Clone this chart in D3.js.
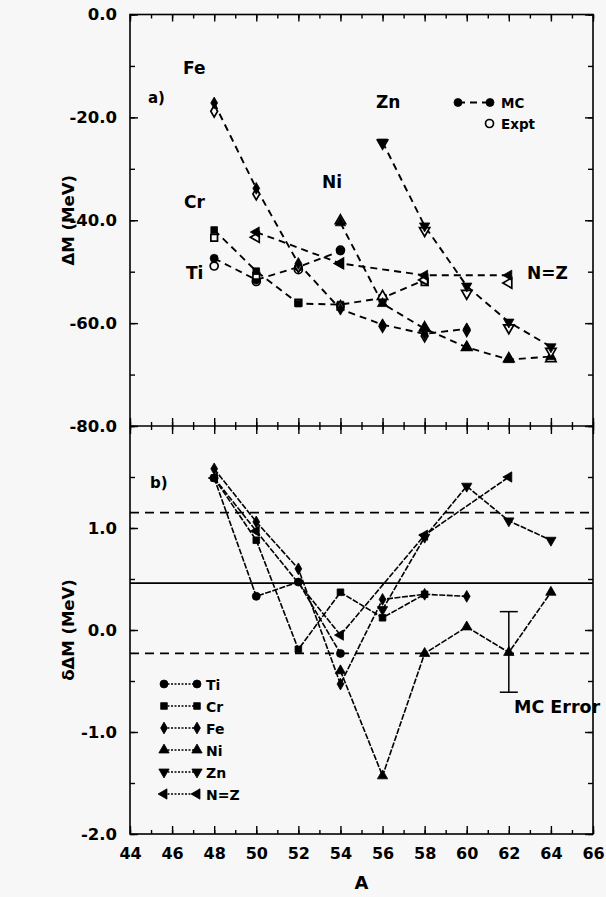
<!DOCTYPE html>
<html>
<head>
<meta charset="utf-8">
<script src="https://cdn.jsdelivr.net/npm/d3@7"></script>
<style>
  html, body { margin: 0; padding: 0; background: #f7f7f7; }
  svg { display: block; font-family: "DejaVu Sans", "Liberation Sans", Arial, sans-serif; }
</style>
</head>
<body>
<svg id="chart" width="606" height="897"></svg>
<script>
// Mass numbers for each isotope chain
const tiA = [48, 50, 52, 54];
const crA = [48, 50, 52, 54, 56, 58];
const feA = [48, 50, 52, 54, 56, 58, 60];
const niA = [54, 56, 58, 60, 62, 64];
const znA = [56, 58, 60, 62, 64];
const nzTopA = [50, 54, 58, 62];
const nzBotA = [48, 50, 54, 58, 62];

// Panel a): mass excess (MeV), Monte Carlo and experiment
const tiMC   = [-47.4, -51.6, -49.1, -46.0];
const tiExpt = [-48.9, -51.9, -49.6, -45.8];
const crMC   = [-41.9, -49.9, -56.2, -56.4, -55.1, -51.6];
const crExpt = [-43.4, -50.8, -56.0, -56.8, -55.2, -52.0];
const feMC   = [-17.2, -33.8, -48.4, -57.3, -60.3, -62.1, -61.1];
const feExpt = [-18.8, -34.9, -49.0, -56.8, -60.6, -62.5, -61.4];
const niMC   = [-40.5, -56.2, -61.1, -64.7, -67.1, -66.5];
const niExpt = [-40.1, -54.8, -60.9, -64.7, -66.9, -66.9];
const znMC   = [-24.8, -41.1, -52.8, -59.8, -64.6];
const znExpt = [-25.0, -42.0, -54.2, -60.9, -65.5];
const nzMC   = [-42.3, -48.4, -50.7, -50.7];
const nzExpt = [-43.3, -48.4, -51.6, -52.2];

// Panel b): difference MC - Expt (MeV)
const tiDiff = [1.49, 0.33, 0.47, -0.23];
const crDiff = [1.49, 0.88, -0.19, 0.37, 0.12, 0.35];
const feDiff = [1.58, 1.06, 0.60, -0.53, 0.30, 0.35, 0.33];
const niDiff = [-0.40, -1.43, -0.23, 0.03, -0.22, 0.37];
const znDiff = [0.20, 0.91, 1.41, 1.07, 0.88];
const nzDiff = [1.49, 0.97, -0.05, 0.93, 1.50];

// Reference levels in panel b) and the MC error bar
const meanDiff = 0.46;
const bandDiff = [1.15, -0.23];
const errA = 62;
const errLow = -0.61;
const errHigh = 0.18;

// Tick values
const xTicks = d3.range(44, 67, 2);
const xMinor = d3.range(44, 67, 1);
const yTopTicks = [0, -20, -40, -60, -80];
const yTopMinor = d3.range(-80, 1, 10);
const yBotTicks = [1, 0, -1, -2];
const yBotMinor = d3.range(-2, 2.01, 0.5);

const svg = d3.select("#chart");
const L = 130, R = 593, T = 14.5, M = 426, B = 834;
const BG = "#f7f7f7";

const x = d3.scaleLinear().domain([44, 66]).range([L, R]);
const yTop = d3.scaleLinear().domain([-80, 0]).range([M, T]);
const yBot = d3.scaleLinear().domain([-2, 2]).range([B, M]);

// Marker shapes
const tri = d3.symbol().type(d3.symbolTriangle).size(46);
const shapes = {
  circle:  { path: d3.symbol().type(d3.symbolCircle).size(50)(), rot: 0 },
  square:  { path: d3.symbol().type(d3.symbolSquare).size(44)(), rot: 0 },
  diamond: { path: d3.symbol().type(d3.symbolDiamond).size(40)(), rot: 0 },
  up:      { path: tri(), rot: 0 },
  down:    { path: tri(), rot: 180 },
  left:    { path: tri(), rot: -90 }
};

function marker(g, shape, cx, cy, filled) {
  const s = shapes[shape];
  g.append("path")
    .attr("d", s.path)
    .attr("transform", `translate(${cx},${cy}) rotate(${s.rot})`)
    .attr("fill", filled ? "#000" : BG)
    .attr("stroke", "#000")
    .attr("stroke-width", filled ? 0.8 : 1.7);
}

// ---------- Panel a) ----------
const gA = svg.append("g");
const topSeries = [
  { A: tiA, mc: tiMC, ex: tiExpt, shape: "circle" },
  { A: crA, mc: crMC, ex: crExpt, shape: "square" },
  { A: feA, mc: feMC, ex: feExpt, shape: "diamond" },
  { A: niA, mc: niMC, ex: niExpt, shape: "up" },
  { A: znA, mc: znMC, ex: znExpt, shape: "down" },
  { A: nzTopA, mc: nzMC, ex: nzExpt, shape: "left" }
];
const lineTop = d3.line().x(d => x(d[0])).y(d => yTop(d[1]));
topSeries.forEach(s => {
  const pts = s.A.map((a, i) => [a, s.mc[i]]);
  gA.append("path").attr("d", lineTop(pts))
    .attr("fill", "none").attr("stroke", "#000")
    .attr("stroke-width", 1.9).attr("stroke-dasharray", "7,5");
});
topSeries.forEach(s => {
  s.A.forEach((a, i) => marker(gA, s.shape, x(a), yTop(s.ex[i]), false));
  s.A.forEach((a, i) => marker(gA, s.shape, x(a), yTop(s.mc[i]), true));
});

// Chain labels
const lab = (g, tx, ty, t, size) => g.append("text").attr("x", tx).attr("y", ty)
  .attr("font-size", size).attr("font-weight", "bold").text(t);
lab(gA, 183, 74, "Fe", 17);
lab(gA, 184, 208, "Cr", 17);
lab(gA, 186, 279, "Ti", 17);
lab(gA, 322, 188, "Ni", 17);
lab(gA, 376, 108, "Zn", 17);
lab(gA, 527, 279, "N=Z", 17);
lab(gA, 148, 103, "a)", 15);

// Legend in panel a)
gA.append("line").attr("x1", 458).attr("x2", 491).attr("y1", 102.5).attr("y2", 102.5)
  .attr("stroke", "#000").attr("stroke-width", 1.9).attr("stroke-dasharray", "7,5");
marker(gA, "circle", 458, 102.5, true);
marker(gA, "circle", 490, 102.5, true);
marker(gA, "circle", 489.5, 123.5, false);
lab(gA, 501, 108, "MC", 13.5);
lab(gA, 501, 129, "Expt", 13.5);

// ---------- Panel b) ----------
const gB = svg.append("g");
bandDiff.forEach(v => {
  gB.append("line").attr("x1", L).attr("x2", R).attr("y1", yBot(v)).attr("y2", yBot(v))
    .attr("stroke", "#000").attr("stroke-width", 1.8).attr("stroke-dasharray", "9,6");
});
gB.append("line").attr("x1", L).attr("x2", R).attr("y1", yBot(meanDiff)).attr("y2", yBot(meanDiff))
  .attr("stroke", "#000").attr("stroke-width", 1.8);

const botSeries = [
  { A: tiA, d: tiDiff, shape: "circle", name: "Ti" },
  { A: crA, d: crDiff, shape: "square", name: "Cr" },
  { A: feA, d: feDiff, shape: "diamond", name: "Fe" },
  { A: niA, d: niDiff, shape: "up", name: "Ni" },
  { A: znA, d: znDiff, shape: "down", name: "Zn" },
  { A: nzBotA, d: nzDiff, shape: "left", name: "N=Z" }
];
const lineBot = d3.line().x(d => x(d[0])).y(d => yBot(d[1]));
botSeries.forEach(s => {
  gB.append("path").attr("d", lineBot(s.A.map((a, i) => [a, s.d[i]])))
    .attr("fill", "none").attr("stroke", "#000")
    .attr("stroke-width", 1.6).attr("stroke-dasharray", "6,1.5");
});
botSeries.forEach(s => {
  s.A.forEach((a, i) => marker(gB, s.shape, x(a), yBot(s.d[i]), true));
});

// MC error bar
const ex = x(errA);
gB.append("line").attr("x1", ex).attr("x2", ex).attr("y1", yBot(errHigh)).attr("y2", yBot(errLow))
  .attr("stroke", "#000").attr("stroke-width", 1.5);
[errHigh, errLow].forEach(v => gB.append("line").attr("x1", ex - 9).attr("x2", ex + 9)
  .attr("y1", yBot(v)).attr("y2", yBot(v)).attr("stroke", "#000").attr("stroke-width", 1.5));
lab(gB, 514, 713, "MC Error", 17.5);
lab(gB, 150, 488, "b)", 15);

// Legend in panel b)
botSeries.forEach((s, i) => {
  const ly = 684 + i * 22;
  gB.append("line").attr("x1", 164).attr("x2", 197).attr("y1", ly).attr("y2", ly)
    .attr("stroke", "#000").attr("stroke-width", 1.4).attr("stroke-dasharray", "2,1.5");
  marker(gB, s.shape, 164, ly, true);
  marker(gB, s.shape, 197, ly, true);
  lab(gB, 206, ly + 5.5, s.name, 14);
});

// ---------- Axes ----------
const axG = svg.append("g");
const styleAxis = g => {
  g.select(".domain").remove();
  g.selectAll(".tick line").attr("stroke", "#000").attr("stroke-width", 1.4);
};
const fmt = d => d3.format(".1f")(d).replace("\u2212", "-");

// left axes with labels
axG.append("g").attr("transform", `translate(${L},0)`)
  .call(d3.axisLeft(yTop).tickValues(yTopTicks).tickSize(-8).tickPadding(13).tickFormat(fmt))
  .call(styleAxis)
  .selectAll("text").attr("font-family", "DejaVu Sans").attr("font-size", 16.5)
  .attr("font-weight", "bold").attr("fill", "#000");
axG.append("g").attr("transform", `translate(${L},0)`)
  .call(d3.axisLeft(yTop).tickValues(yTopMinor).tickSize(-5).tickFormat(""))
  .call(styleAxis);
axG.append("g").attr("transform", `translate(${L},0)`)
  .call(d3.axisLeft(yBot).tickValues(yBotTicks).tickSize(-8).tickPadding(13).tickFormat(fmt))
  .call(styleAxis)
  .selectAll("text").attr("font-family", "DejaVu Sans").attr("font-size", 16.5)
  .attr("font-weight", "bold").attr("fill", "#000");
axG.append("g").attr("transform", `translate(${L},0)`)
  .call(d3.axisLeft(yBot).tickValues(yBotMinor).tickSize(-5).tickFormat(""))
  .call(styleAxis);

// right axes (ticks only)
[[yTop, yTopTicks, 8], [yTop, yTopMinor, 5], [yBot, yBotTicks, 8], [yBot, yBotMinor, 5]].forEach(([sc, tv, len]) => {
  axG.append("g").attr("transform", `translate(${R},0)`)
    .call(d3.axisRight(sc).tickValues(tv).tickSize(-len).tickFormat(""))
    .call(styleAxis);
});

// top edge ticks
[[xTicks, 7], [xMinor, 4]].forEach(([tv, len]) => {
  axG.append("g").attr("transform", `translate(0,${T})`)
    .call(d3.axisTop(x).tickValues(tv).tickSize(-len).tickFormat(""))
    .call(styleAxis);
});
// panel divider ticks, both sides
[[xTicks, 8], [xMinor, 4]].forEach(([tv, len]) => {
  axG.append("g").attr("transform", `translate(0,${M})`)
    .call(d3.axisBottom(x).tickValues(tv).tickSize(len).tickFormat(""))
    .call(styleAxis);
  axG.append("g").attr("transform", `translate(0,${M})`)
    .call(d3.axisTop(x).tickValues(tv).tickSize(len).tickFormat(""))
    .call(styleAxis);
});
// bottom axis with labels
axG.append("g").attr("transform", `translate(0,${B})`)
  .call(d3.axisBottom(x).tickValues(xTicks).tickSize(-8).tickPadding(14))
  .call(styleAxis)
  .selectAll("text").attr("font-family", "DejaVu Sans").attr("font-size", 16)
  .attr("font-weight", "bold").attr("fill", "#000");
axG.append("g").attr("transform", `translate(0,${B})`)
  .call(d3.axisBottom(x).tickValues(xMinor).tickSize(-4).tickFormat(""))
  .call(styleAxis);

// frame and divider
svg.append("rect").attr("x", L).attr("y", T).attr("width", R - L).attr("height", B - T)
  .attr("fill", "none").attr("stroke", "#000").attr("stroke-width", 1.6);
svg.append("line").attr("x1", L).attr("x2", R).attr("y1", M).attr("y2", M)
  .attr("stroke", "#000").attr("stroke-width", 1.6);

// axis titles
svg.append("text").attr("transform", `translate(74,${(T + M) / 2}) rotate(-90)`)
  .attr("text-anchor", "middle").attr("font-size", 16.5).attr("font-weight", "bold").text("ΔM (MeV)");
svg.append("text").attr("transform", `translate(74,${yBot(0)}) rotate(-90)`)
  .attr("text-anchor", "middle").attr("font-size", 16.5).attr("font-weight", "bold").text("δΔM (MeV)");
svg.append("text").attr("x", (L + R) / 2).attr("y", 889)
  .attr("text-anchor", "middle").attr("font-size", 18).attr("font-weight", "bold").text("A");
</script>
</body>
</html>
